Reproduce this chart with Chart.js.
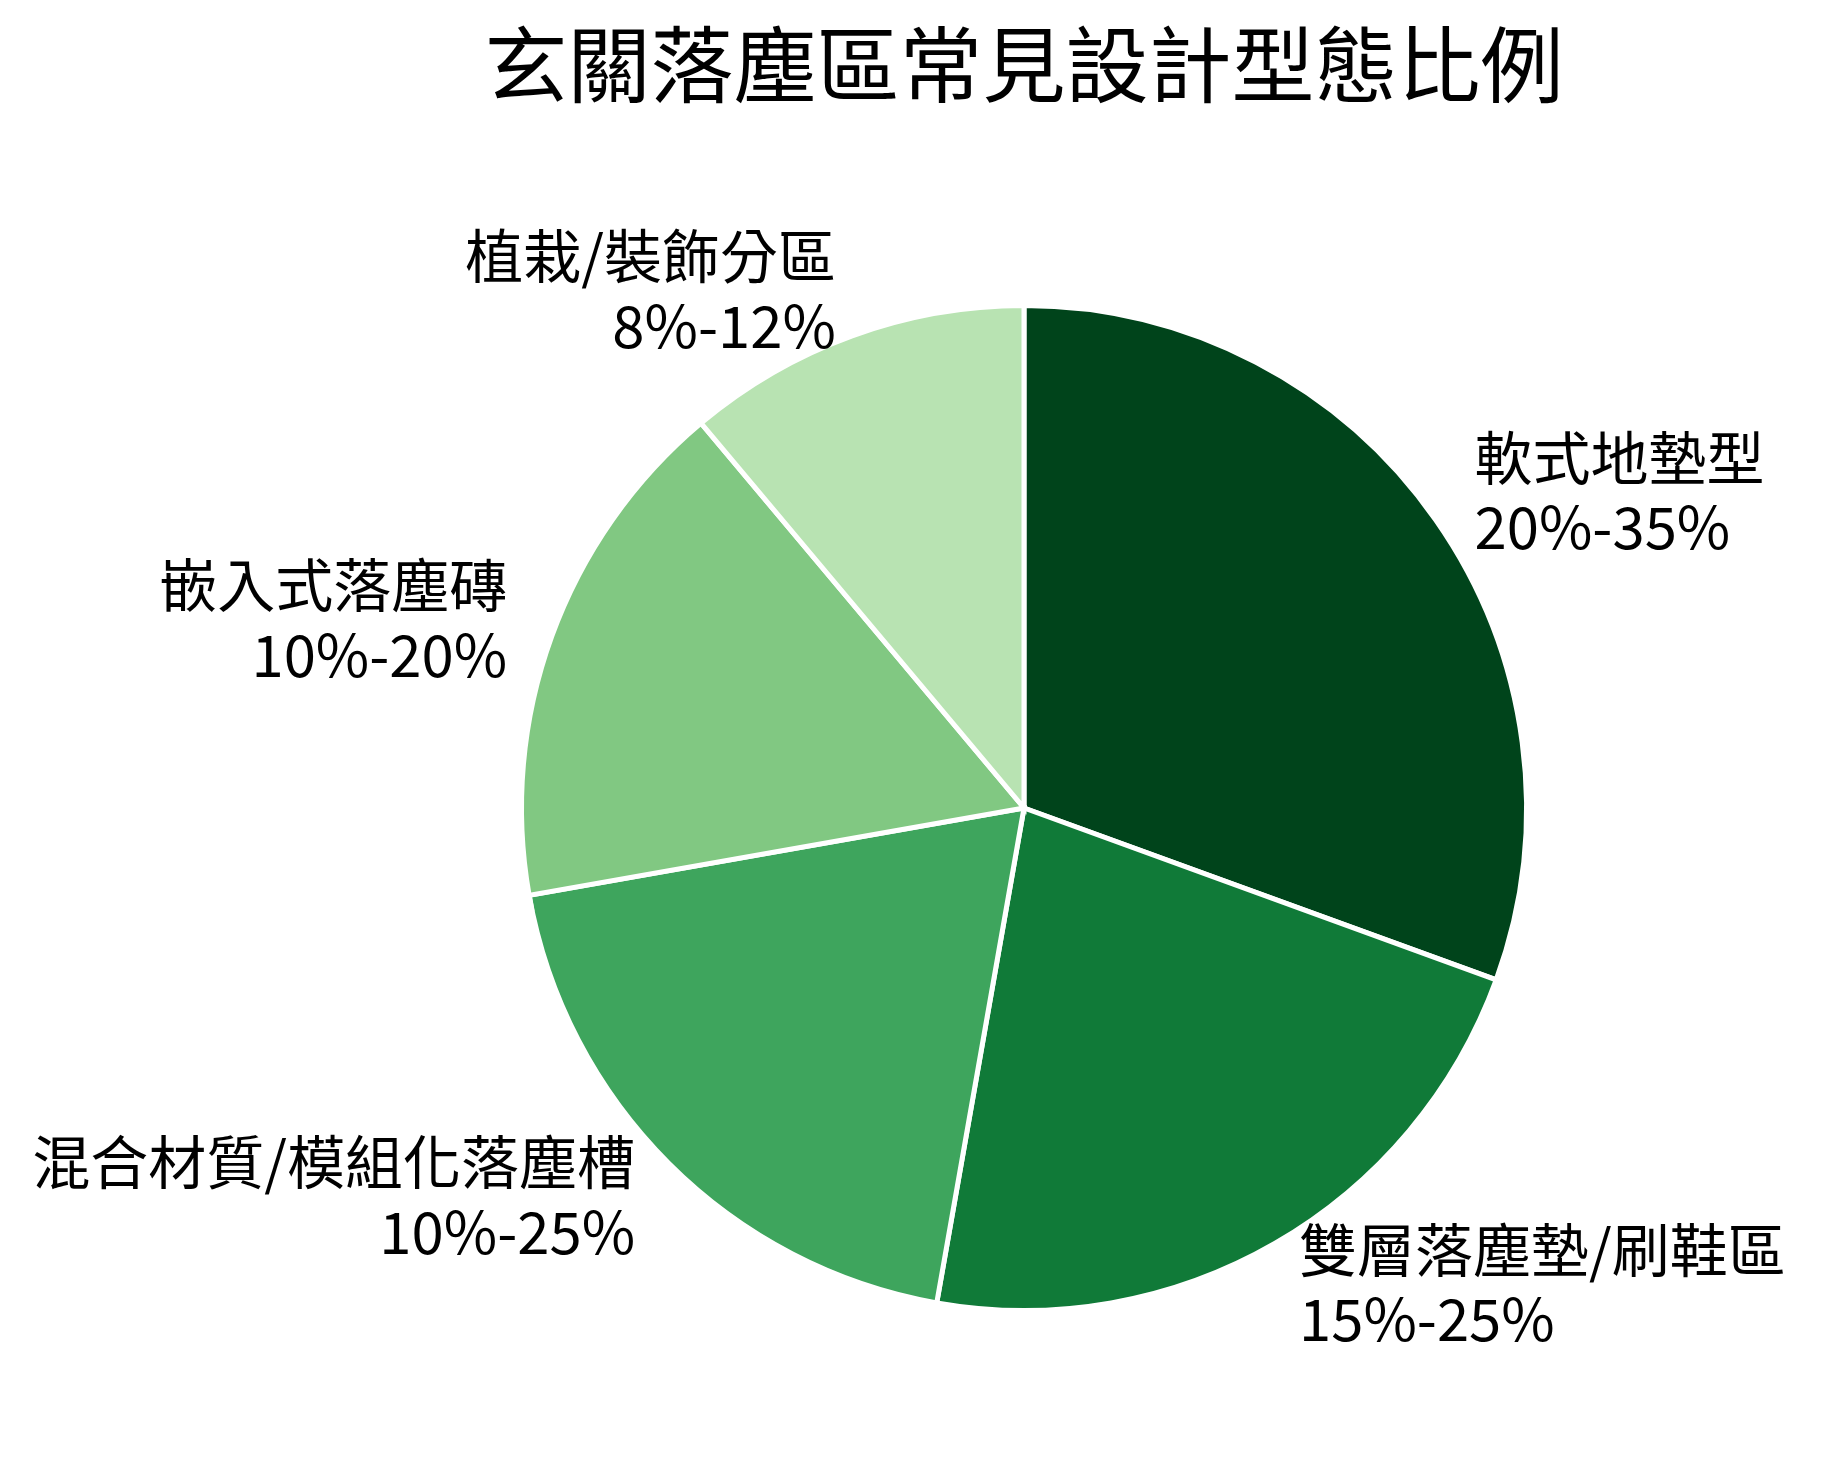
<!DOCTYPE html>
<html>
<head>
<meta charset="utf-8">
<script src="https://cdn.jsdelivr.net/npm/chart.js@4/dist/chart.umd.min.js"></script>
<style>
    html, body { margin: 0; padding: 0; background: #ffffff; }
    #wrap { width: 1823px; height: 1468px; position: relative; }
</style>
</head>
<body>
<div id="wrap"><canvas id="pieChart"></canvas></div>
<script>
// categories and the range text shown under each name
const categories = ['軟式地墊型', '雙層落塵墊/刷鞋區', '混合材質/模組化落塵槽', '嵌入式落塵磚', '植栽/裝飾分區'];
const rangeLabels = ['20%-35%', '15%-25%', '10%-25%', '10%-20%', '8%-12%'];
// slice size = middle of each range
const shareValues = [27.5, 20, 17.5, 15, 10];
const sliceColors = ['#00441b', '#107a38', '#3ea55d', '#81c882', '#b8e3b2'];

const fontFamily = '"Noto Sans CJK TC", "Noto Sans", sans-serif';

// names + ranges placed outside each slice, like matplotlib pie labels
const outsideLabels = {
    id: 'outsideLabels',
    afterDatasetsDraw(chart) {
        const ctx = chart.ctx;
        const meta = chart.getDatasetMeta(0);
        const fontSize = 58;
        const lineGap = fontSize * 1.2;
        ctx.save();
        ctx.font = fontSize + 'px ' + fontFamily;
        ctx.fillStyle = '#000000';
        ctx.textBaseline = 'middle';
        meta.data.forEach(function (arc, i) {
            const p = arc.getProps(['x', 'y', 'startAngle', 'endAngle', 'outerRadius'], true);
            const mid = (p.startAngle + p.endAngle) / 2;
            const r = (p.outerRadius - 2.5) * 1.1;
            const lx = p.x + Math.cos(mid) * r;
            const ly = p.y + Math.sin(mid) * r;
            ctx.textAlign = Math.cos(mid) >= 0 ? 'left' : 'right';
            ctx.fillText(categories[i], lx, ly - lineGap / 2);
            ctx.fillText(rangeLabels[i], lx, ly + lineGap / 2);
        });
        ctx.restore();
    }
};

let pieCtx = document.getElementById('pieChart').getContext('2d');

let pieChart = new Chart(pieCtx, {
    type: 'pie',
    data: {
        labels: categories,
        datasets: [{
            data: shareValues,
            backgroundColor: sliceColors,
            borderColor: '#ffffff',
            borderWidth: 5,
            borderJoinStyle: 'miter'
        }]
    },
    options: {
        responsive: true,
        maintainAspectRatio: false,
        animation: false,
        devicePixelRatio: 1,
        layout: {
            padding: { left: 225, right: 0, top: 0, bottom: 155 }
        },
        plugins: {
            legend: { display: false },
            tooltip: { enabled: false },
            title: {
                display: true,
                text: '玄關落塵區常見設計型態比例',
                color: '#000000',
                font: { family: fontFamily, size: 83, weight: 'normal', lineHeight: 1.2 },
                padding: { top: 15, bottom: 188.4 }
            }
        }
    },
    plugins: [outsideLabels]
});
</script>
</body>
</html>
